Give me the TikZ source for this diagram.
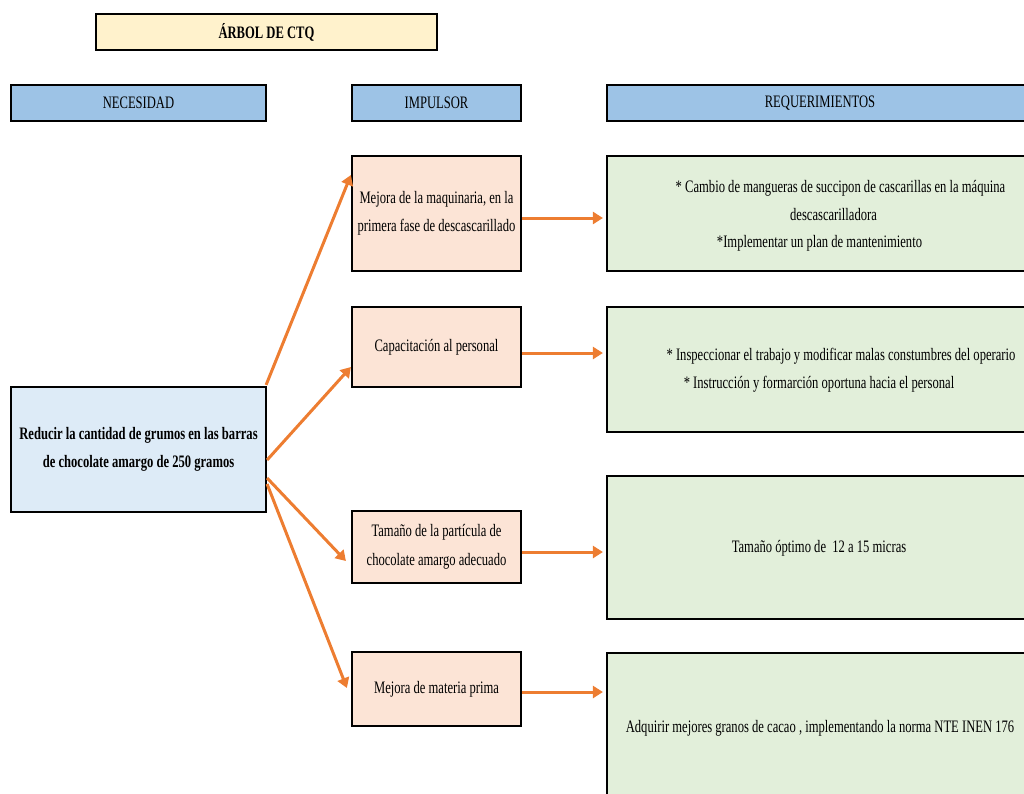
\documentclass[tikz,border=0pt]{standalone}
\usepackage{fontspec}
\setmainfont[FakeStretch=0.72]{Liberation Serif}
\usetikzlibrary{arrows.meta,calc}
\definecolor{titlefill}{HTML}{FFF2CC}
\definecolor{headfill}{HTML}{9DC3E6}
\definecolor{mainfill}{HTML}{DDEBF7}
\definecolor{impfill}{HTML}{FCE4D6}
\definecolor{reqfill}{HTML}{E2EFDA}
\definecolor{arrowc}{HTML}{ED7D31}
\begin{document}
\begin{tikzpicture}[x=1pt,y=-1pt,
  box/.style={draw=black,line width=2.2pt,rectangle,inner sep=0pt,align=center,
    font=\fontsize{17.5}{28.5}\selectfont},
  titlebox/.style={box,fill=titlefill,font=\fontsize{17.5}{20}\selectfont\bfseries},
  headbox/.style={box,fill=headfill},
  mainbox/.style={box,fill=mainfill,font=\fontsize{17.5}{28.5}\selectfont\bfseries},
  impbox/.style={box,fill=impfill},
  reqbox/.style={box,fill=reqfill},
  reqtext/.style={inner sep=0pt,font=\fontsize{17.5}{20}\selectfont},
  conn/.style={draw=arrowc,line width=3pt,-{Triangle[length=10pt,width=12pt]}}
]
\useasboundingbox (0,0) rectangle (1024,793);
\clip (0,0) rectangle (1024,793);

\node[titlebox,minimum width=341pt,minimum height=36pt] (title) at (266.5,32) {ÁRBOL DE CTQ};
\node[headbox,minimum width=255pt,minimum height=36pt] (hnec) at (138.5,103) {NECESIDAD};
\node[headbox,minimum width=169pt,minimum height=36pt] (himp) at (436.5,103) {IMPULSOR};
\node[headbox,minimum width=426pt,minimum height=36pt] (hreq) at (820,103) {REQUERIMIENTOS};

\node[mainbox,minimum width=255pt,minimum height=125pt] (main) at (138.5,449.5)
  {Reducir la cantidad de grumos en las barras\\de chocolate amargo de 250 gramos};

\node[impbox,minimum width=169pt,minimum height=115pt] (imp1) at (436.5,213.5)
  {Mejora de la maquinaria, en la\\primera fase de descascarillado};
\node[impbox,minimum width=169pt,minimum height=80pt] (imp2) at (436.5,347)
  {Capacitación al personal};
\node[impbox,minimum width=169pt,minimum height=72pt] (imp3) at (436.5,547)
  {Tamaño de la partícula de\\chocolate amargo adecuado};
\node[impbox,minimum width=169pt,minimum height=74pt] (imp4) at (436.5,689)
  {Mejora de materia prima};

\node[reqbox,minimum width=426pt,minimum height=115pt] (req1) at (820,213.5) {};
\node[reqbox,minimum width=426pt,minimum height=125pt] (req2) at (820,369.5) {};
\node[reqbox,minimum width=426pt,minimum height=143pt] (req3) at (820,547.5) {};
\node[reqbox,minimum width=426pt,minimum height=148pt] (req4) at (820,727) {};

\node[reqtext] (r1a) at (840.5,188) {* Cambio de mangueras de succipon de cascarillas en la máquina};
\node[reqtext] (r1b) at (833.5,215) {descascarilladora};
\node[reqtext] (r1c) at (819.5,243) {*Implementar un plan de mantenimiento};
\node[reqtext] (r2a) at (841,356) {* Inspeccionar el trabajo y modificar malas constumbres del operario};
\node[reqtext] (r2b) at (819,384) {* Instrucción y formarción oportuna hacia el personal};
\node[reqtext] (r3a) at (819,548) {Tamaño óptimo de\ \ 12 a 15 micras};
\node[reqtext] (r4a) at (820,728) {Adquirir mejores granos de cacao , implementando la norma NTE INEN 176};

\draw[conn] ([xshift=-1pt,yshift=1pt]main.north east) -- ([yshift=38.5pt]imp1.west);
\draw[conn] ([yshift=-10.5pt]main.east) -- ([yshift=-20pt]imp2.west);
\draw[conn] ([yshift=-28.5pt]main.east) -- ([xshift=-5pt,yshift=-14pt]imp3.west);
\draw[conn] ([yshift=-34.5pt]main.east) -- ([xshift=-4pt,yshift=1pt]imp4.west);

\coordinate (s1) at ([yshift=-4.5pt]imp1.east);
\coordinate (s2) at ([yshift=-6pt]imp2.east);
\coordinate (s3) at ([yshift=-5pt]imp3.east);
\coordinate (s4) at ([yshift=-3pt]imp4.east);
\draw[conn,shorten >=3pt] (s1) -- (s1 -| req1.west);
\draw[conn,shorten >=3pt] (s2) -- (s2 -| req2.west);
\draw[conn,shorten >=3pt] (s3) -- (s3 -| req3.west);
\draw[conn,shorten >=3pt] (s4) -- (s4 -| req4.west);
\end{tikzpicture}
\end{document}
